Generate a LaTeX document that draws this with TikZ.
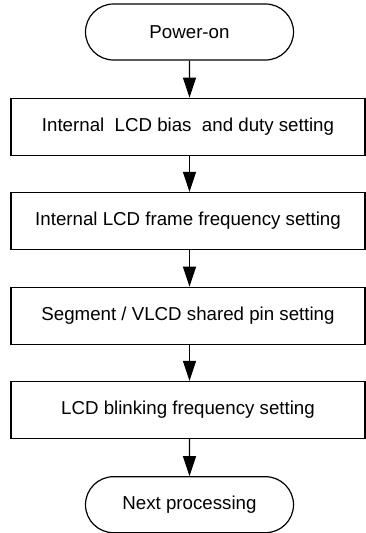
\documentclass[tikz,border=0pt]{standalone}
\usepackage{fontspec}
\setmainfont{Liberation Sans}
\usepackage {tikz}
\usetikzlibrary {positioning}
\usetikzlibrary{shapes.misc}
\usetikzlibrary{arrows.meta}

\tikzset{
  term/.style={draw, line width=1.2pt, rounded rectangle, minimum width=208pt, minimum height=56pt, inner sep=0pt},
  stepbox/.style={draw, line width=1.2pt, rectangle, minimum width=354pt, minimum height=57pt, inner sep=0pt},
  flow/.style={line width=1.2pt, -{Triangle[width=13pt,length=20pt]}}
}

\begin{document}
\begin{tikzpicture}[x=1pt,y=1pt,font=\fontsize{18.7}{22}\selectfont]
\useasboundingbox (0,0) rectangle (366,-533);
\path (189.5,-32) node[term] (pwr) {Power-on}
++(-1.5,-94.7) node[stepbox] (bias) {Internal\ \ LCD bias\ \ and duty setting}
++(0,-94.3) node[stepbox] (frame) {Internal LCD frame frequency setting}
++(0,-94.8) node[stepbox] (segpin) {Segment / VLCD shared pin setting}
++(0,-94.2) node[stepbox] (blink) {LCD blinking frequency setting}
++(1.5,-94.7) node[term] (next) {Next processing};
\draw[flow] (pwr) -- (pwr.south |- bias.north);
\draw[flow] (pwr.south |- bias.south) -- (pwr.south |- frame.north);
\draw[flow] (pwr.south |- frame.south) -- (pwr.south |- segpin.north);
\draw[flow] (pwr.south |- segpin.south) -- (pwr.south |- blink.north);
\draw[flow] (pwr.south |- blink.south) -- (next);
\end{tikzpicture}
\end{document}
